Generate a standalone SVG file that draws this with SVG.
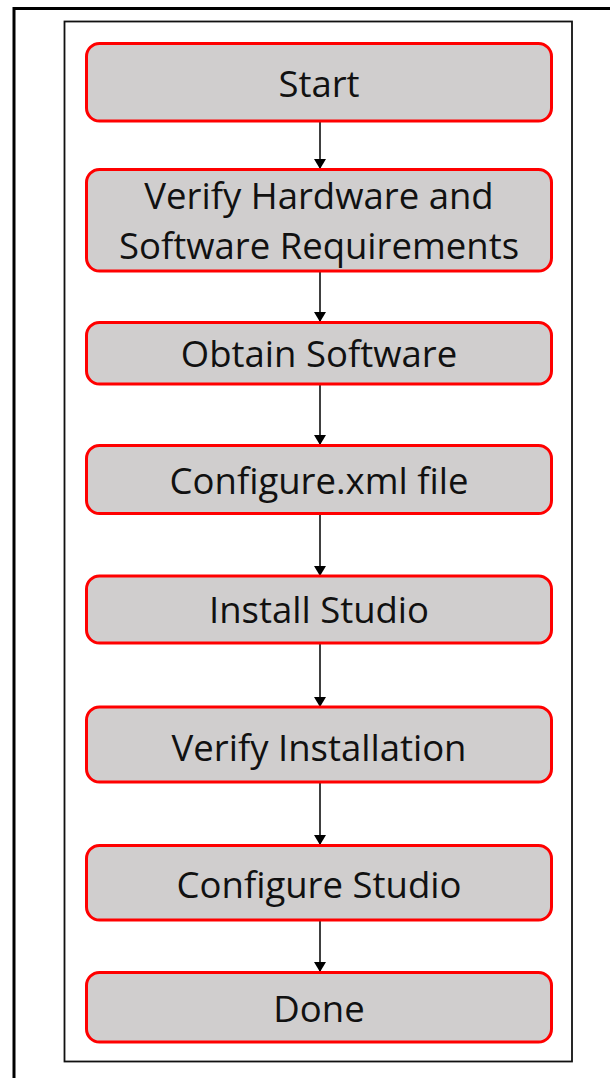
<svg xmlns="http://www.w3.org/2000/svg" width="610" height="1078" viewBox="0 0 610 1078">
<defs>
<style>
.node rect{fill:#d0cece;stroke:#ff0000;stroke-width:3}
.node text{font-family:"Open Sans","Liberation Sans",sans-serif;font-size:36.5px;fill:#111;text-anchor:middle}
.conn line{stroke:#000;stroke-width:1.5}
</style>
<marker id="ah" viewBox="0 0 10 12" refX="10" refY="6" markerWidth="10" markerHeight="12" markerUnits="userSpaceOnUse" orient="auto">
<path d="M0,0 L10,6 L0,12 Z" fill="#000"/>
</marker>
</defs>
<rect x="0" y="0" width="610" height="1078" fill="#fff"/>
<rect x="14" y="8.5" width="640" height="1120" fill="none" stroke="#000" stroke-width="3"/>
<rect x="64.5" y="21.5" width="507.5" height="1040" fill="none" stroke="#111" stroke-width="1.8"/>
<g class="conn">
<line x1="320" y1="121" x2="320" y2="169" marker-end="url(#ah)"/>
<line x1="320" y1="271" x2="320" y2="322" marker-end="url(#ah)"/>
<line x1="320" y1="384" x2="320" y2="445" marker-end="url(#ah)"/>
<line x1="320" y1="514" x2="320" y2="576" marker-end="url(#ah)"/>
<line x1="320" y1="643" x2="320" y2="707" marker-end="url(#ah)"/>
<line x1="320" y1="782" x2="320" y2="845" marker-end="url(#ah)"/>
<line x1="320" y1="920" x2="320" y2="972" marker-end="url(#ah)"/>
</g>
<g id="n1" class="node"><rect x="86.5" y="43.5" width="465" height="77.5" rx="13"/><text x="319" y="97">Start</text></g>
<g id="n2" class="node"><rect x="86.5" y="169.5" width="465" height="101.5" rx="13"/><text x="319" y="209">Verify Hardware and</text><text x="319" y="259">Software Requirements</text></g>
<g id="n3" class="node"><rect x="86.5" y="322.5" width="465" height="61.5" rx="13"/><text x="319" y="367">Obtain Software</text></g>
<g id="n4" class="node"><rect x="86.5" y="445.5" width="465" height="68" rx="13"/><text x="319" y="494">Configure.xml file</text></g>
<g id="n5" class="node"><rect x="86.5" y="576" width="465" height="67" rx="13"/><text x="319" y="623">Install Studio</text></g>
<g id="n6" class="node"><rect x="86.5" y="707" width="465" height="75" rx="13"/><text x="319" y="761">Verify Installation</text></g>
<g id="n7" class="node"><rect x="86.5" y="845.5" width="465" height="74.5" rx="13"/><text x="319" y="898">Configure Studio</text></g>
<g id="n8" class="node"><rect x="86.5" y="972.5" width="465" height="69.5" rx="13"/><text x="319" y="1022">Done</text></g>
</svg>
